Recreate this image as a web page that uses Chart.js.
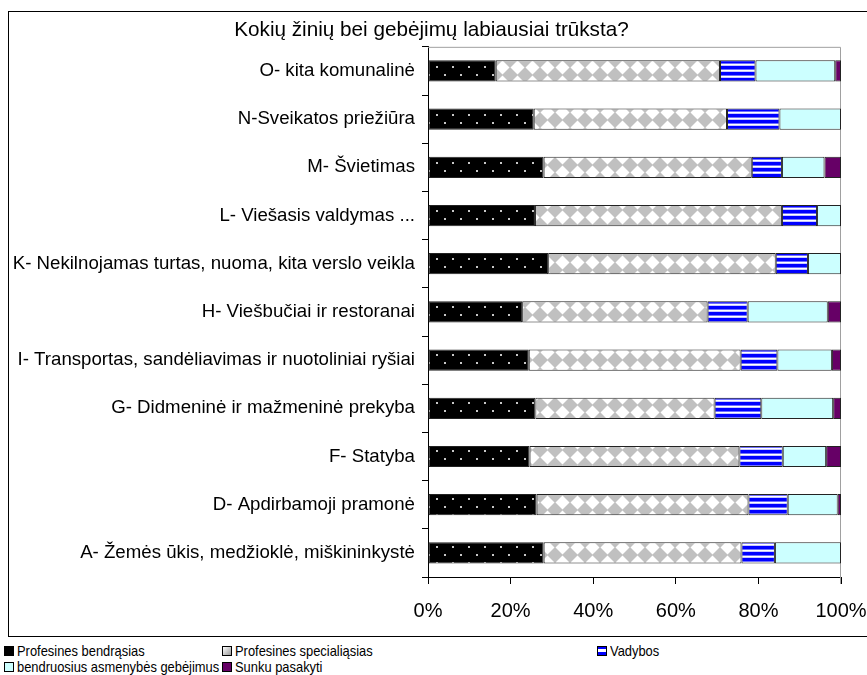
<!DOCTYPE html>
<html>
<head>
<meta charset="utf-8">
<script src="https://cdn.jsdelivr.net/npm/chart.js@4/dist/chart.umd.min.js"></script>
<style>
  html, body { margin: 0; padding: 0; background: #fff; overflow: hidden; }
  body { width: 867px; height: 675px; position: relative; font-family: "Liberation Sans", Arial, sans-serif; }
  #frame { position: absolute; left: 8px; top: 11px; width: 900px; height: 624px; border: 1px solid #000; }
  #wrap { position: absolute; left: 0; top: 0; width: 867px; height: 639px; }
  #legend {
    position: absolute; left: 4px; top: 643px;
    display: grid; grid-template-columns: 218px 375px auto;
    font-size: 15px; line-height: 16px; color: #000;
  }
  #legend .item { display: flex; align-items: center; white-space: nowrap; }
  #legend .box { width: 8px; height: 8px; border: 1px solid #000; margin-right: 3px; flex: none; }
  #legend .txt { display: inline-block; transform: scaleX(0.86); transform-origin: left center; }
</style>
</head>
<body>
<div id="frame"></div>
<div id="wrap"><canvas id="chart" width="867" height="639"></canvas></div>
<div id="legend"></div>
<script>
// --- Data (percent of answers, top row first) ---
const categories = [
  "O- kita komunalinė",
  "N-Sveikatos priežiūra",
  "M- Švietimas",
  "L- Viešasis valdymas ...",
  "K- Nekilnojamas turtas, nuoma, kita verslo veikla",
  "H- Viešbučiai ir restoranai",
  "I- Transportas, sandėliavimas ir nuotoliniai ryšiai",
  "G- Didmeninė ir mažmeninė prekyba",
  "F- Statyba",
  "D- Apdirbamoji pramonė",
  "A- Žemės ūkis, medžioklė, miškininkystė"
];
const bendrasias     = [16.4, 25.6, 28.0, 25.9, 29.1, 22.8, 24.4, 26.0, 24.6, 26.3, 28.0];
const specialiasias  = [54.3, 46.8, 50.4, 59.8, 55.1, 44.9, 51.3, 43.4, 50.8, 51.3, 47.9];
const vadybos        = [8.6, 12.7, 7.3, 8.5, 7.8, 9.7, 8.9, 11.3, 10.5, 9.5, 8.1];
const asmenybes      = [19.3, 14.9, 10.3, 5.8, 8.0, 19.4, 13.2, 17.4, 10.5, 12.1, 16.0];
const sunku          = [1.4, 0, 4.0, 0, 0, 3.2, 2.2, 1.9, 3.6, 0.8, 0];
const xTicks = [0, 20, 40, 60, 80, 100];

// --- Fill patterns ---
function makePattern(w, h, draw) {
  const c = document.createElement("canvas");
  c.width = w;
  c.height = h;
  const g = c.getContext("2d");
  draw(g);
  return g.createPattern(c, "repeat");
}

const dotsFill = makePattern(16, 16, (g) => {
  g.fillStyle = "#000";
  g.fillRect(0, 0, 16, 16);
  g.fillStyle = "#c8c8c8";
  g.fillRect(4, 2, 2, 2);
  g.fillRect(12, 10, 2, 2);
});

const diamondFill = makePattern(15, 15, (g) => {
  g.fillStyle = "#c0c0c0";
  g.fillRect(0, 0, 15, 15);
  g.fillStyle = "#fff";
  g.beginPath();
  g.moveTo(7.5, 0.5);
  g.lineTo(14.5, 7.5);
  g.lineTo(7.5, 14.5);
  g.lineTo(0.5, 7.5);
  g.closePath();
  g.fill();
});

const stripeFill = makePattern(4, 6, (g) => {
  g.fillStyle = "#fff";
  g.fillRect(0, 0, 4, 6);
  g.fillStyle = "#0000ff";
  g.fillRect(0, 0, 4, 3);
  g.fillStyle = "#7070ff";
  g.fillRect(0, 3, 4, 1);
  g.fillStyle = "#c8c8ff";
  g.fillRect(0, 5, 4, 1);
});

// --- Gray frame on top and right of the plot area ---
const plotFrame = {
  id: "plotFrame",
  beforeDatasetsDraw(chart) {
    const { ctx, chartArea: a } = chart;
    ctx.save();
    ctx.strokeStyle = "#a0a0a0";
    ctx.lineWidth = 1;
    ctx.beginPath();
    ctx.moveTo(a.left, a.top + 0.5);
    ctx.lineTo(a.right - 0.5, a.top + 0.5);
    ctx.lineTo(a.right - 0.5, a.bottom + 7);
    ctx.stroke();
    ctx.restore();
  }
};

const series = [
  { label: "Profesines bendrąsias", data: bendrasias, bg: dotsFill, css: "#000" },
  { label: "Profesines specialiąsias", data: specialiasias, bg: diamondFill, css: "linear-gradient(135deg,#fff,#999)" },
  { label: "Vadybos", data: vadybos, bg: stripeFill, css: "linear-gradient(#00f 0 30%,#fff 30% 65%,#00f 65%)" },
  { label: "bendruosius asmenybės gebėjimus", data: asmenybes, bg: "#ccffff", css: "#ccffff" },
  { label: "Sunku pasakyti", data: sunku, bg: "#660066", css: "#660066" }
];

Chart.defaults.font.family = '"Liberation Sans", Arial, sans-serif';
Chart.defaults.color = "#000";

new Chart(document.getElementById("chart"), {
  type: "bar",
  data: {
    labels: categories,
    datasets: series.map((s) => ({
      label: s.label,
      data: s.data,
      backgroundColor: s.bg,
      borderColor: "#222",
      borderWidth: 1,
      borderSkipped: false,
      barPercentage: 0.44,
      categoryPercentage: 1
    }))
  },
  options: {
    indexAxis: "y",
    responsive: false,
    animation: false,
    layout: { padding: { left: 0, right: 4, top: 0, bottom: 1 } },
    plugins: {
      legend: { display: false },
      tooltip: { enabled: false },
      title: {
        display: true,
        text: "Kokių žinių bei gebėjimų labiausiai trūksta?",
        font: { size: 20.7, weight: "normal" },
        padding: { top: 18, bottom: 4 }
      }
    },
    scales: {
      x: {
        stacked: true,
        min: 0,
        max: 100,
        afterBuildTicks: (scale) => {
          scale.ticks = xTicks.map((v) => ({ value: v }));
        },
        afterFit: (scale) => { scale.paddingRight = 26; },
        ticks: {
          font: { size: 20 },
          padding: 15,
          callback: (v) => v + "%"
        },
        grid: { drawOnChartArea: false, tickLength: 7, color: "#000" },
        border: { color: "#000" }
      },
      y: {
        stacked: true,
        afterFit: (scale) => { scale.width = 428; },
        ticks: { font: { size: 18.67 }, padding: 7 },
        grid: { drawOnChartArea: false, tickLength: 6, color: "#000", offset: true },
        border: { color: "#000" }
      }
    }
  },
  plugins: [plotFrame]
});

// --- Legend ---
document.getElementById("legend").innerHTML = series
  .map((s) => `<div class="item"><span class="box" style="background:${s.css}"></span><span class="txt">${s.label}</span></div>`)
  .join("");
</script>
</body>
</html>
